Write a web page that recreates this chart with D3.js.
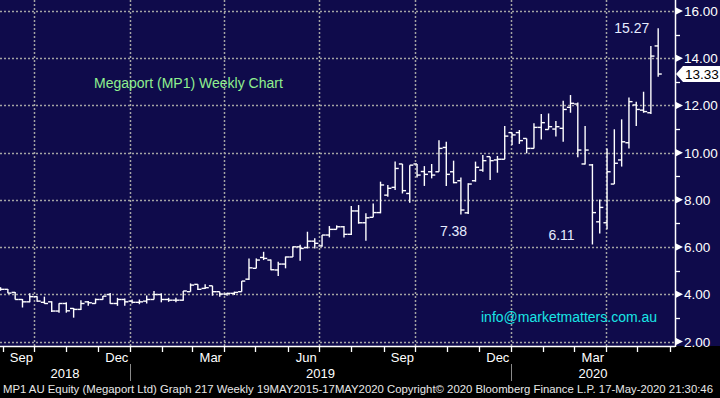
<!DOCTYPE html>
<html>
<head>
<meta charset="utf-8">
<script src="https://cdn.jsdelivr.net/npm/d3@7"></script>
<style>
  html, body { margin: 0; padding: 0; background: #000; }
  svg { display: block; }
</style>
</head>
<body>
<div id="chart"></div>
<script>
// weekly bars, week ending Friday 24 Aug 2018 .. 15 May 2020
const firstWeek = new Date(2018, 7, 24);
const lastWeek = new Date(2020, 4, 15);

const open  = [4.25,4.21,4.08,3.78,3.68,3.90,3.66,3.68,3.29,3.61,3.40,3.36,3.68,3.61,3.78,3.99,3.61,3.78,3.71,3.66,3.71,3.78,3.99,3.78,3.75,3.75,4.11,4.42,4.25,4.36,4.11,4.01,4.04,4.11,4.64,5.10,5.56,5.45,5.03,5.28,5.58,6.01,5.98,6.25,6.05,6.51,6.75,6.86,6.54,7.53,7.03,7.26,7.46,8.20,8.53,9.52,8.27,9.52,9.20,9.19,9.19,10.22,9.19,8.81,7.45,8.81,9.26,9.83,9.69,9.72,10.85,10.85,10.60,10.18,11.07,10.98,11.00,11.03,11.92,12.06,9.52,9.48,7.07,7.03,8.67,9.69,10.42,12.02,11.80,11.69,14.52];
const high  = [4.30,4.22,4.10,3.80,4.04,3.92,3.90,3.70,3.62,3.66,3.42,3.75,3.72,3.82,3.93,4.05,3.85,3.82,3.78,3.78,3.95,4.14,4.04,3.85,3.85,4.14,4.46,4.42,4.43,4.36,4.11,4.07,4.11,4.56,5.52,5.52,5.80,5.47,5.38,5.60,6.02,6.10,6.65,6.37,6.51,6.89,6.92,6.89,7.74,7.78,7.43,7.85,8.77,8.63,9.62,9.52,9.47,9.52,9.43,9.52,10.53,10.46,9.66,8.95,8.70,9.62,9.90,9.83,9.86,11.13,10.85,10.96,10.60,11.24,11.64,11.66,11.34,12.20,12.44,12.12,11.13,9.52,8.02,10.18,10.99,11.41,12.34,12.16,12.58,14.52,15.27];
const low   = [4.15,4.04,3.78,3.44,3.66,3.68,3.60,3.25,3.22,3.22,3.01,3.33,3.51,3.60,3.77,3.60,3.51,3.51,3.61,3.58,3.61,3.78,3.66,3.68,3.66,3.73,4.11,4.18,4.22,3.94,3.90,3.94,3.97,4.11,4.60,5.10,5.45,5.02,4.77,5.10,5.58,5.42,5.94,5.94,6.01,6.41,6.75,6.41,6.51,6.99,6.27,7.26,7.43,8.13,8.42,8.27,7.88,8.95,8.59,8.91,9.19,8.59,8.70,7.38,7.40,8.77,9.19,8.84,9.15,9.72,10.32,10.37,9.97,10.18,10.56,10.98,10.68,10.46,11.69,9.80,9.50,6.11,6.58,6.75,8.67,9.41,10.18,11.13,11.69,11.64,13.22];
const close = [4.21,4.05,3.78,3.68,3.90,3.71,3.61,3.29,3.61,3.30,3.36,3.61,3.64,3.78,3.92,3.61,3.78,3.68,3.66,3.68,3.78,3.99,3.78,3.75,3.75,4.14,4.39,4.21,4.28,4.11,4.01,4.04,4.08,4.56,5.12,5.45,5.52,5.04,5.28,5.58,6.01,5.94,6.25,6.16,6.51,6.75,6.86,6.54,7.53,7.03,7.24,7.46,8.63,8.49,9.33,8.39,9.47,9.05,9.08,9.05,10.18,9.08,8.73,7.57,8.67,9.38,9.66,9.66,9.72,10.70,10.75,10.51,10.18,11.07,11.27,11.10,11.10,11.83,12.09,10.11,10.11,7.46,7.68,9.19,9.55,10.46,12.16,11.83,11.74,14.09,13.33];

const priceTicks = [2, 4, 6, 8, 10, 12, 14, 16];
const minorTicks = [3, 5, 7, 9, 11, 13, 15];
const monthLabels = [
  { date: new Date(2018, 8, 1), text: "Sep" },
  { date: new Date(2018, 11, 1), text: "Dec" },
  { date: new Date(2019, 2, 1), text: "Mar" },
  { date: new Date(2019, 5, 1), text: "Jun" },
  { date: new Date(2019, 8, 1), text: "Sep" },
  { date: new Date(2019, 11, 1), text: "Dec" },
  { date: new Date(2020, 2, 1), text: "Mar" }
];
const yearLabels = ["2018", "2019", "2020"];
const callouts = [
  { text: "15.27", value: 15.27, dx: -44, dy: 5 },
  { text: "7.38", value: 7.38, dx: -21, dy: 22 },
  { text: "6.11", value: 6.11, dx: -44, dy: -4 }
];
const lastPrice = 13.33;

const W = 720, H = 398;
const plotR = 675, plotB = 346;

const weeks = d3.timeFriday.range(firstWeek, d3.timeDay.offset(lastWeek, 1));
const bars = weeks.map((d, i) => ({ date: d, o: open[i], h: high[i], l: low[i], c: close[i] }));

const x = d3.scaleTime()
  .domain([new Date(2019, 0, 1), new Date(2020, 0, 1)])
  .range([130, 511]);
const y = d3.scaleLinear().domain([2, 16]).range([341.5, 11]);
// bloomberg draws a weekly bar a little after its friday date
const bx = (d) => x(d3.timeDay.offset(d, 6));

const svg = d3.select("#chart").append("svg")
  .attr("width", W).attr("height", H);

svg.append("rect").attr("width", W).attr("height", H).attr("fill", "#000");
svg.append("rect").attr("width", W).attr("height", plotB).attr("fill", "#0f0b4b");

svg.append("clipPath").attr("id", "plot")
  .append("rect").attr("width", plotR).attr("height", plotB);

// grid
const grid = svg.append("g")
  .attr("stroke", "#a4a4a4").attr("stroke-width", 1.5).attr("stroke-dasharray", "2,2");

grid.selectAll("line.h").data(priceTicks).enter().append("line")
  .attr("x1", 0).attr("x2", plotR)
  .attr("y1", (d) => Math.round(y(d)) + 0.5).attr("y2", (d) => Math.round(y(d)) + 0.5);

const quarters = d3.timeMonth.every(3).range(new Date(2018, 9, 1), new Date(2020, 5, 1))
  .filter((d) => d.getMonth() % 3 === 0);
grid.selectAll("line.v").data(quarters).enter().append("line")
  .attr("x1", (d) => Math.round(x(d)) + 0.5).attr("x2", (d) => Math.round(x(d)) + 0.5)
  .attr("y1", 0).attr("y2", plotB);

// ohlc bars
const barG = svg.append("g").attr("clip-path", "url(#plot)")
  .attr("stroke", "#fff").attr("stroke-width", 1.4).attr("fill", "none");

bars.forEach((b) => {
  const cx = bx(b.date);
  barG.append("line").attr("x1", cx).attr("x2", cx).attr("y1", y(b.h)).attr("y2", y(b.l));
  barG.append("line").attr("x1", cx - 3.6).attr("x2", cx).attr("y1", y(b.o)).attr("y2", y(b.o));
  barG.append("line").attr("x1", cx).attr("x2", cx + 3.6).attr("y1", y(b.c)).attr("y2", y(b.c));
});

// axes lines
svg.append("line").attr("x1", 0).attr("x2", plotR).attr("y1", plotB + 0.5).attr("y2", plotB + 0.5)
  .attr("stroke", "#fff").attr("stroke-width", 1.5);
svg.append("line").attr("x1", plotR + 0.5).attr("x2", plotR + 0.5).attr("y1", 0).attr("y2", plotB + 1)
  .attr("stroke", "#fff").attr("stroke-width", 1.5);

// month ticks
const months = d3.timeMonth.range(new Date(2018, 8, 1), new Date(2020, 5, 2))
  .filter((d) => x(d) > 0 && x(d) < plotR);
svg.append("g").selectAll("line").data(months).enter().append("line")
  .attr("x1", (d) => Math.round(x(d)) + 0.5).attr("x2", (d) => Math.round(x(d)) + 0.5)
  .attr("y1", plotB).attr("y2", plotB + 6)
  .attr("stroke", "#fff").attr("stroke-width", 1.3);

const font = "'Liberation Sans', Arial, sans-serif";

svg.append("g").selectAll("text").data(monthLabels).enter().append("text")
  .attr("x", (d) => (x(d.date) + x(d3.timeMonth.offset(d.date, 1))) / 2 + 3)
  .attr("y", 362)
  .attr("text-anchor", "middle")
  .attr("font-family", font).attr("font-size", "13px")
  .attr("fill", "#fff")
  .text((d) => d.text);

// years
const yearEdges = [0, x(new Date(2019, 0, 1)), x(new Date(2020, 0, 1)), plotR];
svg.append("g").selectAll("text").data(yearLabels).enter().append("text")
  .attr("x", (d, i) => (yearEdges[i] + yearEdges[i + 1]) / 2)
  .attr("y", 378)
  .attr("text-anchor", "middle")
  .attr("font-family", font).attr("font-size", "13px")
  .attr("fill", "#fff")
  .text((d) => d);
svg.append("g").selectAll("line").data(yearEdges.slice(1, 3)).enter().append("line")
  .attr("x1", (d) => Math.round(d) + 0.5).attr("x2", (d) => Math.round(d) + 0.5)
  .attr("y1", 364).attr("y2", 381)
  .attr("stroke", "#8a8a8a").attr("stroke-width", 1);

// right price axis
const ax = svg.append("g");
ax.selectAll("path").data(priceTicks).enter().append("path")
  .attr("d", (d) => `M${plotR + 1},${y(d) - 3.5} L${plotR + 8},${y(d)} L${plotR + 1},${y(d) + 3.5} Z`)
  .attr("fill", "#fff");
ax.selectAll("line").data(minorTicks).enter().append("line")
  .attr("x1", plotR).attr("x2", plotR + 5)
  .attr("y1", (d) => Math.round(y(d)) + 0.5).attr("y2", (d) => Math.round(y(d)) + 0.5)
  .attr("stroke", "#fff").attr("stroke-width", 1.3);
ax.selectAll("text").data(priceTicks).enter().append("text")
  .attr("x", plotR + 9).attr("y", (d) => y(d) + 5)
  .attr("font-family", font).attr("font-size", "13.5px")
  .attr("fill", "#fff")
  .text((d) => d.toFixed(2));

// last price flag
const ly = y(lastPrice);
svg.append("path")
  .attr("d", `M${plotR + 1},${ly} L${plotR + 8},${ly - 8} L${W},${ly - 8} L${W},${ly + 8} L${plotR + 8},${ly + 8} Z`)
  .attr("fill", "#fff");
svg.append("text").attr("x", plotR + 10).attr("y", ly + 5)
  .attr("font-family", font).attr("font-size", "13.5px").attr("fill", "#000")
  .text(lastPrice.toFixed(2));

// callouts at the extremes
const barByValue = (v) => bars.find((b) => b.h === v || b.l === v);
svg.append("g").selectAll("text").data(callouts).enter().append("text")
  .attr("x", (d) => bx(barByValue(d.value).date) + d.dx)
  .attr("y", (d) => y(d.value) + d.dy)
  .attr("font-family", font).attr("font-size", "14px")
  .attr("fill", "#e6ecff")
  .text((d) => d.text);

svg.append("text").attr("x", 94).attr("y", 88)
  .attr("font-family", font).attr("font-size", "14px").attr("fill", "#8ff08f")
  .text("Megaport (MP1) Weekly Chart");

svg.append("text").attr("x", 481).attr("y", 322)
  .attr("font-family", font).attr("font-size", "14px").attr("fill", "#19e6e6")
  .text("info@marketmatters.com.au");

svg.append("text").attr("x", 3).attr("y", 393)
  .attr("font-family", font).attr("font-size", "11px").attr("fill", "#e8e8e8")
  .attr("textLength", 710).attr("lengthAdjust", "spacingAndGlyphs")
  .text("MP1 AU Equity (Megaport Ltd) Graph 217  Weekly 19MAY2015-17MAY2020  Copyright\u00A9 2020 Bloomberg Finance L.P.  17-May-2020 21:30:46");
</script>
</body>
</html>
